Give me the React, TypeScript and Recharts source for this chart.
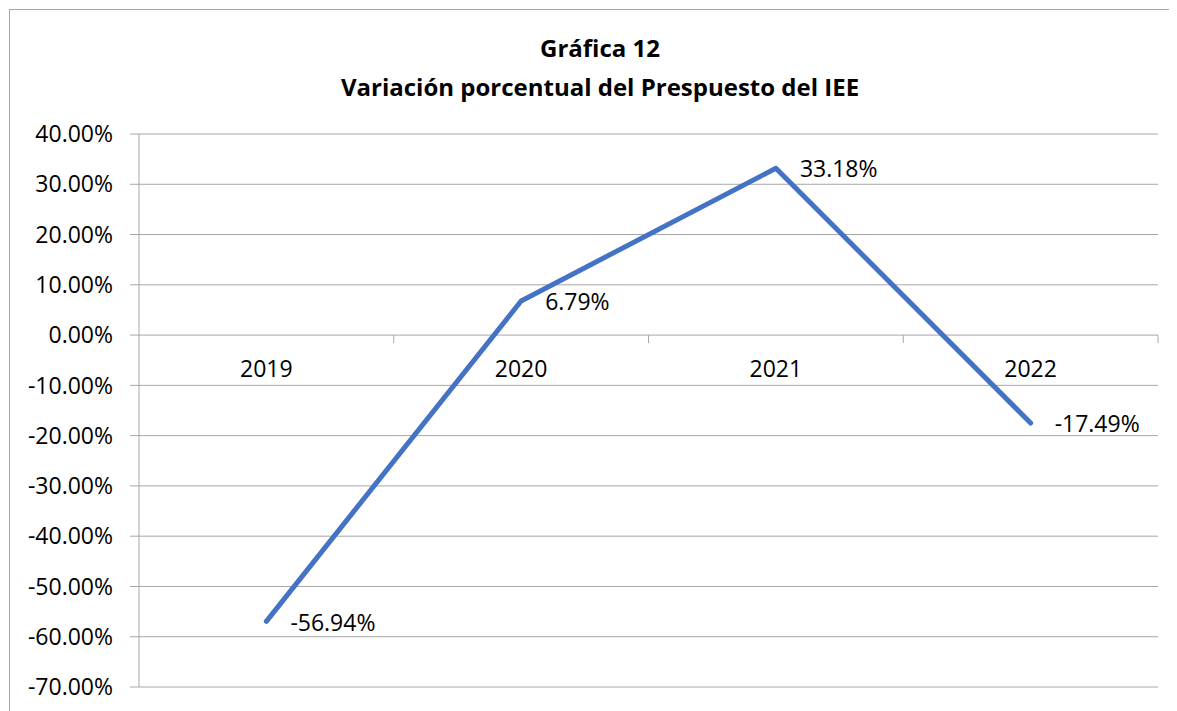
import React from 'react';
import {
  LineChart,
  Line,
  XAxis,
  YAxis,
  CartesianGrid,
  ReferenceDot,
  LabelList
} from 'recharts';

// Data
const years = ['2019', '2020', '2021', '2022'];
const variation = [-0.5694, 0.0679, 0.3318, -0.1749];
const yTicks = [-0.7, -0.6, -0.5, -0.4, -0.3, -0.2, -0.1, 0, 0.1, 0.2, 0.3, 0.4];

const data = years.map((y, i) => ({ year: y, value: variation[i] }));

const FONT = '"Open Sans", sans-serif';
const GRID = '#a6a6a6';
const CHART_W = 1169;
const CHART_H = 703;
const AXIS_W = 131;
const MARGIN = { top: 126, right: 19, bottom: 24, left: 0 };
const BAND = (CHART_W - AXIS_W - MARGIN.left - MARGIN.right) / years.length;

const pct = (v: number) => `${(v * 100).toFixed(2)}%`;

// data label placed to the right of each point, like Excel's "Right" position
const PointLabel = (props: any) => {
  const { x, y, value } = props;
  return (
    <text x={x + 24} y={y + 3} fontSize={23} fontFamily={FONT} fill="#000" dominantBaseline="middle">
      {pct(value)}
    </text>
  );
};

// category label + tick mark on the zero line
const CategoryMark = (label: string) => (props: any) => {
  const { cx, cy } = props;
  return (
    <g>
      <line x1={cx + BAND / 2} y1={cy} x2={cx + BAND / 2} y2={cy + 8} stroke={GRID} strokeWidth={1} />
      <text x={cx} y={cy + 36} textAnchor="middle" dominantBaseline="middle" fontSize={23} fontFamily={FONT} fill="#000">
        {label}
      </text>
    </g>
  );
};

export default function App() {
  return (
    <div style={{ position: 'relative', width: CHART_W, height: CHART_H, overflow: 'hidden', background: '#fff' }}>
      <div
        style={{
          position: 'absolute',
          left: 1,
          top: 1,
          width: 1300,
          height: 800,
          border: `1px solid ${GRID}`
        }}
      />
      <div
        style={{
          position: 'absolute',
          left: 0,
          top: 20,
          width: 1184,
          textAlign: 'center',
          fontFamily: FONT,
          fontWeight: 700,
          fontSize: 24,
          lineHeight: '39px',
          color: '#000'
        }}
      >
        <div>Gráfica 12</div>
        <div>Variación porcentual del Prespuesto del IEE</div>
      </div>
      <div style={{ position: 'absolute', left: 0, top: 0 }}>
        <LineChart width={CHART_W} height={CHART_H} data={data} margin={MARGIN}>
          <CartesianGrid vertical={false} stroke={GRID} strokeWidth={1} />
          <XAxis dataKey="year" hide padding={{ left: BAND / 2, right: BAND / 2 }} />
          <YAxis
            width={AXIS_W}
            domain={[-0.7, 0.4]}
            ticks={yTicks}
            interval={0}
            tickFormatter={pct}
            tick={{ fontSize: 23, fontFamily: FONT, fill: '#000' }}
            tickSize={9}
            tickMargin={17}
            tickLine={{ stroke: GRID }}
            axisLine={{ stroke: GRID }}
          />
          {years.map(y => (
            <ReferenceDot key={y} x={y} y={0} r={0} shape={CategoryMark(y)} />
          ))}
          <Line
            type="linear"
            dataKey="value"
            stroke="#4472C4"
            strokeWidth={5}
            strokeLinecap="round"
            strokeLinejoin="round"
            dot={false}
            activeDot={false}
            isAnimationActive={false}
          >
            <LabelList dataKey="value" content={PointLabel} />
          </Line>
        </LineChart>
      </div>
    </div>
  );
}
